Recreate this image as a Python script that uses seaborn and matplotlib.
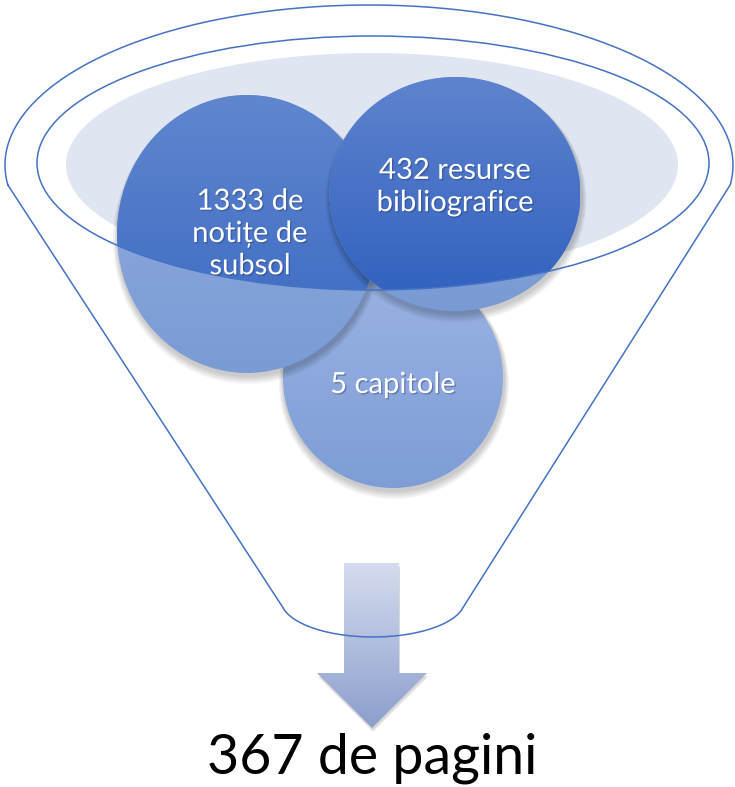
import numpy as np
import matplotlib
matplotlib.use("Agg")
import matplotlib.pyplot as plt
import matplotlib.patheffects as pe
from matplotlib.patches import Ellipse, Polygon
from matplotlib.colors import LinearSegmentedColormap
import seaborn as sns

# Diagram content
labels = ["1333 de\nnotițe de\nsubsol", "432 resurse\nbibliografice", "5 capitole"]
result_label = "367 de pagini"

# Layout (pixel space, y grows downward)
centers = [(247, 234), (455, 194), (393, 378)]
widths = [260, 251, 220]
heights = [278, 234, 220]
draw_order = [2, 0, 1]

# Colours: (top, bottom) of gradient; dark = inside funnel rim, light = below it
dark_cols = [("#6086ce", "#3868c2"), ("#5f83ce", "#2f60be"), ("#9ab3e2", "#7e9dd6")]
light_cols = [("#93aee0", "#7b9bd5"), ("#90acdf", "#7a9ad5"), ("#9ab3e2", "#7e9dd6")]
line_col = "#4472c4"

sns.set_theme(style="white")
plt.rcParams["font.family"] = ["Lato", "DejaVu Sans"]

W, H = 735, 787
fig = plt.figure(figsize=(W / 100, H / 100), dpi=100)
ax = fig.add_axes([0, 0, 1, 1])
ax.set_xlim(0, W)
ax.set_ylim(H, 0)
ax.axis("off")

RIM = (373, 163, 336, 127)  # cx, cy, half width, half height


def rim_bottom(x):
    cx, cy, a, b = RIM
    r = np.clip(1 - ((x - cx) / a) ** 2, 0, 1)
    return cy + b * np.sqrt(r)


def gradient_patch(patch, top, bottom, extent, z):
    patch.set_facecolor("none")
    patch.set_edgecolor("none")
    ax.add_patch(patch)
    cmap = LinearSegmentedColormap.from_list("g", [top, bottom])
    grad = np.linspace(0, 1, 256).reshape(-1, 1)
    x0, x1, y0, y1 = extent
    im = ax.imshow(grad, cmap=cmap, extent=[x0, x1, y1, y0], aspect="auto",
                   interpolation="bilinear", zorder=z)
    im.set_clip_path(patch)
    return im


def soft_shadow(cx, cy, w, h, z):
    for k in range(6):
        ax.add_patch(Ellipse((cx + 1, cy + 3 + k * 0.6), w + 2 + k * 1.6, h + 2 + k * 1.6,
                             facecolor="black", edgecolor="none", alpha=0.035, zorder=z))


# rim fill (light grey-blue)
ax.add_patch(Ellipse((372, 165), 612, 224, facecolor="#dfe5f1", edgecolor="none", zorder=1))

# funnel outline
ocx, ocy, oa, ob = 369, 165, 364, 160
t0 = np.arcsin(20 / ob)
t = np.linspace(np.pi + t0, -t0, 300)
top_x = ocx + oa * np.cos(t)
top_y = ocy - ob * np.sin(t)
bcx, bcy, ba, bb = 373, 600, 92, 37
s0 = np.arccos(90 / ba)
s = np.linspace(s0, np.pi - s0, 200)
bot_x = bcx + ba * np.cos(s)
bot_y = bcy + bb * np.sin(s)
fx = np.concatenate([top_x, bot_x, [top_x[0]]])
fy = np.concatenate([top_y, bot_y, [top_y[0]]])
ax.plot(fx, fy, color=line_col, lw=1.1, zorder=20)

# circles
ang = np.linspace(0, 2 * np.pi, 400)
for z, i in enumerate(draw_order):
    cx, cy = centers[i]
    w, h = widths[i], heights[i]
    base = 3 + z * 3
    soft_shadow(cx, cy, w, h, base)
    ext = (cx - w / 2, cx + w / 2, cy - h / 2, cy + h / 2)
    gradient_patch(Ellipse((cx, cy), w, h), *light_cols[i], ext, base + 1)
    # darker tone only for the part inside the funnel rim
    px = cx + w / 2 * np.cos(ang)
    py = cy + h / 2 * np.sin(ang)
    py = np.minimum(py, rim_bottom(px))
    gradient_patch(Polygon(np.column_stack([px, py]), closed=True), *dark_cols[i], ext, base + 2)

# rim outline on top of circles
ax.add_patch(Ellipse(RIM[:2], 2 * RIM[2], 2 * RIM[3], facecolor="none",
                     edgecolor=line_col, lw=1.1, zorder=20))

# labels in circles
label_pos = [(250, 234), (455, 187), (393, 385)]
shadow = [pe.SimplePatchShadow(offset=(1, -1), alpha=0.35, shadow_rgbFace="#203060"), pe.Normal()]
for (x, y), txt in zip(label_pos, labels):
    ax.text(x, y, txt, ha="center", va="center", color="white", fontsize=21,
            linespacing=1.3, zorder=30, path_effects=shadow)

# arrow
arrow_pts = [(344, 563), (399, 563), (399, 673), (427, 673), (372, 728), (317, 673), (344, 673)]
for k in range(5):
    ax.add_patch(Polygon([(x + 1, y + 2 + k * 0.6) for x, y in arrow_pts], closed=True,
                         facecolor="black", edgecolor="none", alpha=0.03, zorder=14))
gradient_patch(Polygon(arrow_pts, closed=True), "#d5dcee", "#8c9ecd", (317, 427, 563, 728), 15)

ax.text(372, 773, result_label, ha="center", va="baseline", color="black", fontsize=40, zorder=30)

fig.savefig("out.png", dpi=100)
